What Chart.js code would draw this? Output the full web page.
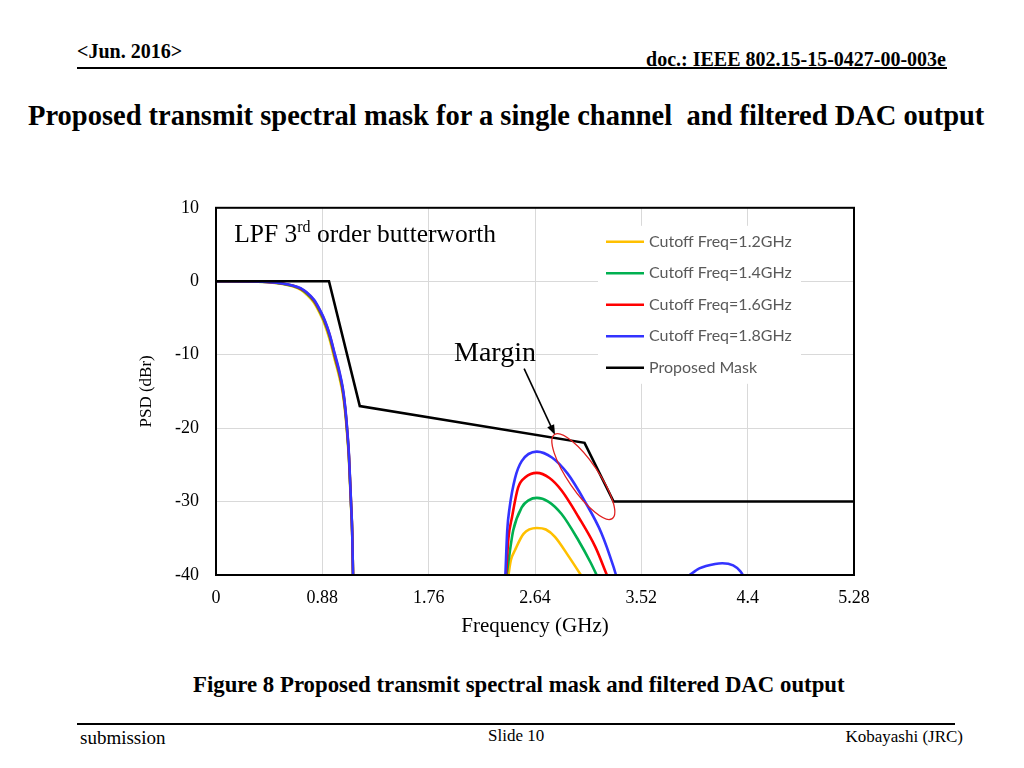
<!DOCTYPE html>
<html>
<head>
<meta charset="utf-8">
<title>Proposed transmit spectral mask</title>
<script src="https://cdn.jsdelivr.net/npm/chart.js@4.4.0/dist/chart.umd.min.js"></script>
<style>
  body{margin:0;background:#fff;width:1024px;height:768px;position:relative;overflow:hidden;font-family:"Liberation Serif","Times New Roman",serif;color:#000}
  .t{position:absolute;white-space:nowrap;line-height:1}
  .b{font-weight:bold}
  .rule{position:absolute;background:#000}
  #wrap{position:absolute;left:100px;top:180px;width:800px;height:480px}
</style>
</head>
<body>
<div class="t b" style="left:77px;top:41px;font-size:20px">&lt;Jun. 2016&gt;</div>
<div class="t b" style="right:78px;top:49px;font-size:20px">doc.: IEEE 802.15-15-0427-00-003e</div>
<div class="rule" style="left:77px;top:67px;width:870px;height:2px"></div>
<div class="t b" style="left:28px;top:102px;font-size:28.5px">Proposed transmit spectral mask for a single channel &nbsp;and filtered DAC output</div>

<div id="wrap"><canvas id="psdChart" width="800" height="480"></canvas></div>

<div class="t b" style="left:193px;top:674px;font-size:22.8px">Figure 8 Proposed transmit spectral mask and filtered DAC output</div>
<div class="rule" style="left:77px;top:723px;width:878px;height:2px"></div>
<div class="t" style="left:80px;top:728px;font-size:19px">submission</div>
<div class="t" style="left:488px;top:727px;font-size:17px">Slide 10</div>
<div class="t" style="right:61px;top:728px;font-size:17px">Kobayashi (JRC)</div>

<script>
// axis ticks
const xTicks = [0, 0.88, 1.76, 2.64, 3.52, 4.4, 5.28];
const xTickLabels = ['0', '0.88', '1.76', '2.64', '3.52', '4.4', '5.28'];
const yMin = -40, yMax = 10, yStep = 10;

// proposed mask (GHz, dBr)
const maskFreq = [0, 0.935, 1.19, 3.05, 3.29, 5.28];
const maskPsd  = [0, 0, -17, -22, -30, -30];

// filtered DAC output (GHz, dBr); null = gap between lobes
const freq12 = [0, 0.3, 0.45, 0.55, 0.64, 0.7, 0.75, 0.81, 0.86, 0.9, 0.94, 0.985, 1.02, 1.05, 1.07, 1.085, 1.1, 1.117, 1.127, 1.134, 1.8,
                2.42, 2.44, 2.475, 2.545, 2.655, 2.73, 2.805, 2.92, 3.02];
const psd12  = [0, -0.04, -0.15, -0.36, -0.72, -1.15, -1.8, -2.9, -4.4, -5.9, -7.9, -10.8, -13.0, -15.4, -18.0, -20.8, -24.2, -30.4, -34.3, -40, null,
                -40, -38, -36.6, -34.4, -33.6, -33.8, -34.8, -37.5, -40];

const freq14 = [0, 0.3, 0.45, 0.55, 0.64, 0.7, 0.75, 0.81, 0.86, 0.9, 0.94, 0.985, 1.02, 1.05, 1.07, 1.085, 1.1, 1.117, 1.127, 1.134, 1.8,
                2.405, 2.43, 2.46, 2.53, 2.59, 2.655, 2.75, 2.86, 3.0, 3.1, 3.15];
const psd14  = [0, -0.035, -0.14, -0.33, -0.66, -1.05, -1.65, -2.7, -4.15, -5.6, -7.5, -10.4, -12.6, -15.0, -17.6, -20.4, -23.9, -30.2, -34.2, -40, null,
                -40, -37, -33.9, -30.8, -29.8, -29.5, -30.0, -31.7, -35.3, -38.3, -40];

const freq16 = [0, 0.3, 0.45, 0.55, 0.64, 0.7, 0.75, 0.81, 0.86, 0.9, 0.94, 0.985, 1.02, 1.05, 1.07, 1.085, 1.1, 1.117, 1.127, 1.134, 1.8,
                2.40, 2.42, 2.45, 2.50, 2.56, 2.655, 2.76, 2.86, 3.0, 3.14, 3.235];
const psd16  = [0, -0.03, -0.13, -0.31, -0.62, -1.0, -1.55, -2.6, -4.0, -5.4, -7.3, -10.2, -12.4, -14.8, -17.4, -20.2, -23.7, -30.0, -34.1, -40, null,
                -40, -35, -32.1, -28.1, -26.7, -26.1, -26.8, -28.5, -32.1, -36.2, -40];

const freq18 = [0, 0.3, 0.45, 0.55, 0.64, 0.7, 0.75, 0.81, 0.86, 0.9, 0.94, 0.985, 1.02, 1.05, 1.07, 1.085, 1.1, 1.117, 1.127, 1.134, 1.8,
                2.395, 2.41, 2.43, 2.475, 2.53, 2.655, 2.78, 2.91, 3.05, 3.19, 3.29, 3.31, 3.6,
                3.92, 3.97, 4.0, 4.13, 4.19, 4.28, 4.34, 4.36];
const psd18  = [0, -0.03, -0.12, -0.3, -0.6, -0.95, -1.5, -2.5, -3.9, -5.3, -7.2, -10, -12.2, -14.6, -17.2, -20, -23.5, -29.9, -34, -40, null,
                -40, -34, -30.8, -26.8, -24.5, -23.2, -24.0, -26.2, -29.9, -34.3, -38.9, -40, null,
                -40, -39.4, -39.1, -38.5, -38.4, -38.7, -39.5, -40];

const seriesNames = ['Cutoff Freq=1.2GHz', 'Cutoff Freq=1.4GHz', 'Cutoff Freq=1.6GHz', 'Cutoff Freq=1.8GHz', 'Proposed Mask'];
const seriesColors = ['#ffc000', '#00b050', '#ff0000', '#3333ff', '#000000'];

const zip = (xs, ys) => xs.map((x, i) => ({x: x, y: ys[i]}));

// annotations: texts, arrow and ellipse, placed through the scales
const annot = {
  id: 'annot',
  afterDatasetsDraw(chart){
    const {ctx, chartArea: a, scales: {x, y}} = chart;
    ctx.save();

    // LPF label with superscript
    let px = x.getPixelForValue(0.15), py = y.getPixelForValue(5.3);
    ctx.fillStyle = '#000';
    ctx.textBaseline = 'alphabetic';
    ctx.textAlign = 'left';
    ctx.font = '25.5px "Liberation Serif", serif';
    ctx.fillText('LPF 3', px, py);
    px += ctx.measureText('LPF 3').width;
    ctx.font = '16px "Liberation Serif", serif';
    ctx.fillText('rd', px, py - 10);
    px += ctx.measureText('rd').width;
    ctx.font = '25.5px "Liberation Serif", serif';
    ctx.fillText(' order butterworth', px, py);

    // Margin label + arrow
    ctx.font = '28px "Liberation Serif", serif';
    ctx.fillText('Margin', x.getPixelForValue(1.97), y.getPixelForValue(-10.8));
    const x0 = x.getPixelForValue(2.55), y0 = y.getPixelForValue(-11.9);
    const x1 = x.getPixelForValue(2.806), y1 = y.getPixelForValue(-20.95);
    const ang = Math.atan2(y1 - y0, x1 - x0);
    ctx.strokeStyle = '#000';
    ctx.lineWidth = 1.6;
    ctx.beginPath();
    ctx.moveTo(x0, y0);
    ctx.lineTo(x1 - 8 * Math.cos(ang), y1 - 8 * Math.sin(ang));
    ctx.stroke();
    ctx.beginPath();
    ctx.moveTo(x1, y1);
    ctx.lineTo(x1 - 11 * Math.cos(ang - 0.35), y1 - 11 * Math.sin(ang - 0.35));
    ctx.lineTo(x1 - 11 * Math.cos(ang + 0.35), y1 - 11 * Math.sin(ang + 0.35));
    ctx.closePath();
    ctx.fill();

    // red ellipse round the margin
    ctx.strokeStyle = '#e02020';
    ctx.lineWidth = 1.3;
    ctx.beginPath();
    ctx.ellipse(x.getPixelForValue(3.04), y.getPixelForValue(-26.6), 51, 15, 55.5 * Math.PI / 180, 0, Math.PI * 2);
    ctx.stroke();

    // legend box
    const lx = a.left + 382, ly = a.top + 18;
    ctx.fillStyle = '#fff';
    ctx.fillRect(lx, ly, 203, 158);
    ctx.font = '16px Lato, "Open Sans", sans-serif';
    ctx.textBaseline = 'middle';
    seriesNames.forEach((name, i) => {
      const ry = ly + 16 + i * 31.5;
      ctx.strokeStyle = seriesColors[i];
      ctx.lineWidth = 2.6;
      ctx.beginPath();
      ctx.moveTo(lx + 8, ry);
      ctx.lineTo(lx + 46, ry);
      ctx.stroke();
      ctx.fillStyle = '#595959';
      ctx.fillText(name, lx + 51, ry);
    });

    // plot frame
    ctx.strokeStyle = '#000';
    ctx.lineWidth = 2;
    ctx.strokeRect(a.left, a.top, a.right - a.left, a.bottom - a.top);
    ctx.restore();
  }
};

const mkSet = (i, xs, ys, order) => ({
  label: seriesNames[i],
  data: zip(xs, ys),
  borderColor: seriesColors[i],
  backgroundColor: seriesColors[i],
  borderWidth: 2.6,
  pointRadius: 0,
  spanGaps: false,
  cubicInterpolationMode: 'monotone',
  order: order
});

const datasets = [
  mkSet(0, freq12, psd12, 4),
  mkSet(1, freq14, psd14, 3),
  mkSet(2, freq16, psd16, 2),
  mkSet(3, freq18, psd18, 1),
  Object.assign(mkSet(4, maskFreq, maskPsd, 0), {cubicInterpolationMode: 'default', tension: 0})
];

new Chart(document.getElementById('psdChart'), {
  type: 'line',
  data: {datasets},
  plugins: [annot],
  options: {
    responsive: false,
    animation: false,
    layout: {padding: {left: 36, right: 46, top: 25, bottom: 15}},
    plugins: {legend: {display: false}, tooltip: {enabled: false}},
    scales: {
      x: {
        type: 'linear', min: 0, max: 5.28,
        afterBuildTicks: s => { s.ticks = xTicks.map(v => ({value: v})); },
        afterFit: s => { s.height = 70; },
        ticks: {
          callback: (v) => { const k = xTicks.indexOf(v); return k >= 0 ? xTickLabels[k] : ''; },
          color: '#000', padding: 12, maxRotation: 0, autoSkip: false,
          font: {family: '"Liberation Serif", serif', size: 18}
        },
        grid: {color: '#d9d9d9', lineWidth: 1, drawTicks: false},
        border: {display: false},
        title: {display: true, text: 'Frequency (GHz)', color: '#000', padding: {top: 0, bottom: 6},
                font: {family: '"Liberation Serif", serif', size: 21}}
      },
      y: {
        min: yMin, max: yMax,
        afterFit: s => { s.width = 80; },
        ticks: {stepSize: yStep, color: '#000', padding: 17,
                font: {family: '"Liberation Serif", serif', size: 18}},
        grid: {color: '#d9d9d9', lineWidth: 1, drawTicks: false},
        border: {display: false},
        title: {display: true, text: 'PSD (dBr)', color: '#000', padding: {top: 0, bottom: 0},
                font: {family: '"Liberation Serif", serif', size: 17}}
      }
    }
  }
});
</script>
</body>
</html>
